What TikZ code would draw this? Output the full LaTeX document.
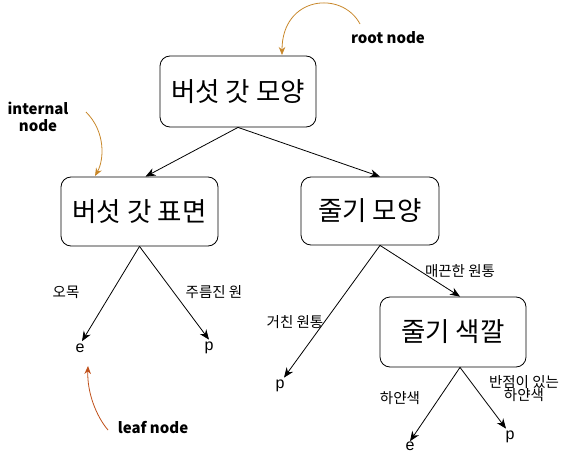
\documentclass[tikz,border=0pt]{standalone}
\usepackage{fontspec}
\setmainfont{Noto Sans CJK KR}
\newfontfamily\leaffont{Liberation Sans}
\usetikzlibrary{arrows.meta}
\definecolor{notegold}{HTML}{C8872A}
\definecolor{noterust}{HTML}{C0501A}

\begin{document}
\begin{tikzpicture}[x=1pt, y=-1pt, line width=0.8pt,
  attr/.style={draw, rounded corners=10pt, inner sep=0pt,
    font=\fontsize{26.5}{30}\selectfont},
  leaf/.style={inner sep=2pt, font=\leaffont\fontsize{16}{18}\selectfont},
  cond/.style={font=\fontsize{14.5}{16}\selectfont, align=center, inner sep=0pt},
  note/.style={font=\bfseries\fontsize{15}{17}\selectfont, align=center, inner sep=0pt},
  split/.style={-{Stealth[length=10pt, width=8pt]}},
  hint/.style={-{Stealth[length=8pt, width=6.5pt]}}]

\useasboundingbox (0,0) rectangle (561,457);

% test nodes
\node[attr, minimum width=156pt, minimum height=71pt] (cap) at (238,91.5) {버섯 갓 모양};
\node[attr, minimum width=157pt, minimum height=69pt] (surf) at (139.5,211.5) {버섯 갓 표면};
\node[attr, minimum width=138pt, minimum height=68pt] (stalk) at (370,211) {줄기 모양};
\node[attr, minimum width=146pt, minimum height=70pt] (color) at (453,332) {줄기 색깔};

% leaves
\node[leaf] (e1) at (80,348) {e};
\node[leaf] (p1) at (209,348) {p};
\node[leaf] (p2) at (280,386) {p};
\node[leaf] (e2) at (410,446) {e};
\node[leaf] (p3) at (510,437) {p};

% branches
\draw[split] (cap.south) -- ([xshift=6pt]surf.north);
\draw[split] (cap.south) -- ([xshift=10pt]stalk.north);
\draw[split] (surf.south) -- ([xshift=2pt]e1.north);
\draw[split] (surf.south) -- (p1.north);
\draw[split] ([xshift=10pt]stalk.south) -- ([xshift=4pt]p2.north);
\draw[split] ([xshift=10pt]stalk.south) -- ([xshift=7pt]color.north);
\draw[split] ([xshift=7pt]color.south) -- ([yshift=-2pt]e2.north);
\draw[split] ([xshift=7pt]color.south) -- ([xshift=-4pt]p3.north);

% branch values
\node[cond] (concave) at (66,292) {오목};
\node[cond] (wrinkle) at (214,292) {주름진 원};
\node[cond] (rough) at (295,322) {거친 원통};
\node[cond] (smooth) at (460,271) {매끈한 원통};
\node[cond] (white) at (400,398) {하얀색};
\node[cond] (spotted) at (524,389) {반점이 있는\\[-3pt]하얀색};

% notes
\node[note] (rootnote) at (388,38) {root node};
\node[note] (innote) at (38,117) {internal\\node};
\node[note] (leafnote) at (153,428) {leaf node};
\coordinate (rootfrom) at (360,24);
\coordinate (rootto) at (282,55);
\coordinate (infrom) at (86,112);
\coordinate (into) at (95,176);
\coordinate (leaffrom) at (108,430);
\coordinate (leafto) at (88,366);

\draw[hint, notegold] (rootfrom) .. controls (342,-10) and (282,-4) .. (rootto);
\draw[hint, notegold] (infrom) .. controls (106,132) and (104,160) .. (into);
\draw[hint, noterust] (leaffrom) .. controls (96,416) and (87,392) .. (leafto);

\end{tikzpicture}
\end{document}
